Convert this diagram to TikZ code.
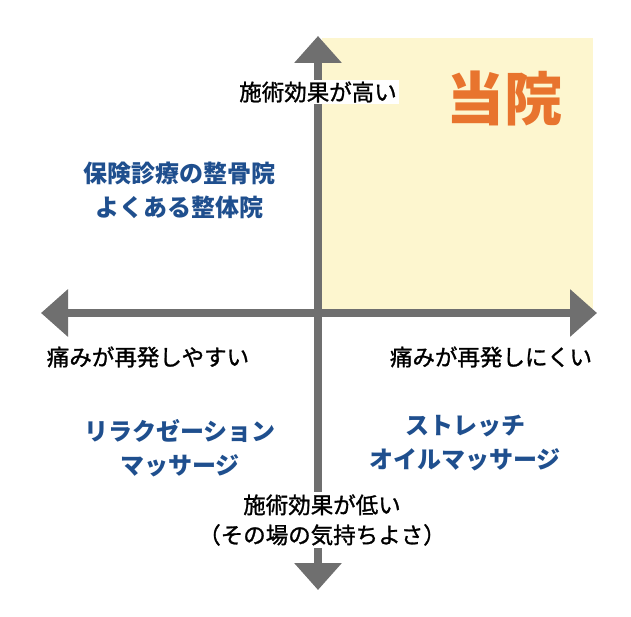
\documentclass[tikz,border=0pt]{standalone}
\usepackage{fontspec}
\newfontfamily\jp{Noto Sans CJK JP}
\newfontfamily\jpm[FakeBold=1.2]{Noto Sans CJK JP}
\usetikzlibrary{arrows.meta}
\definecolor{axisgray}{HTML}{6F6F6F}
\definecolor{paleyellow}{HTML}{FDF6CF}
\definecolor{navy}{HTML}{1F4F8E}
\definecolor{orangeT}{HTML}{E8742E}
\begin{document}
\begin{tikzpicture}[x=1pt,y=-1pt,
  axis/.style={draw=axisgray,line width=8pt,-{Triangle[width=46pt,length=27pt]}},
  lbl/.style={font=\jpm\fontsize{22.5}{30}\selectfont,text=black,inner sep=2pt,align=center},
  blue/.style={font=\jp\bfseries\fontsize{24}{34}\selectfont,text=navy,align=center},
]
\useasboundingbox (0,0) rectangle (631,617);
\fill[white] (0,0) rectangle (631,617);
\fill[paleyellow] (322,38) rectangle (593,309);
\coordinate (ctr) at (318,313);
\coordinate (top) at (318,36);
\coordinate (bot) at (318,590);
\coordinate (lft) at (41,313);
\coordinate (rgt) at (597,313);
\draw[axis] (ctr) -- (top);
\draw[axis] (ctr) -- (bot);
\draw[axis] (ctr) -- (lft);
\draw[axis] (ctr) -- (rgt);
\node[lbl,fill=white] (hi) at (318,92) {施術効果が高い};
\node[font=\jp\bfseries\fontsize{58}{62}\selectfont,text=orangeT] (us) at (504,98) {当院};
\node[blue] (q2) at (179,190) {保険診療の整骨院\\よくある整体院};
\node[lbl] (ls) at (148,357) {痛みが再発しやすい};
\node[lbl] (rs) at (491,357) {痛みが再発しにくい};
\node[blue] (q3) at (180,448) {リラクゼーション\\マッサージ};
\node[blue] (q4) at (465,443) {ストレッチ\\オイルマッサージ};
\node[lbl,fill=white] (lo) at (322,520) {施術効果が低い\\（その場の気持ちよさ）};
\end{tikzpicture}
\end{document}
